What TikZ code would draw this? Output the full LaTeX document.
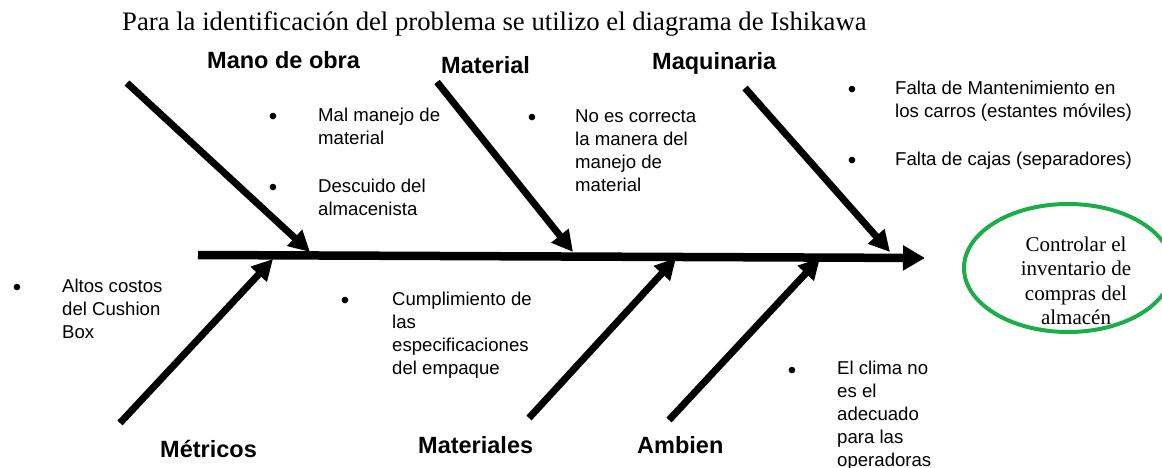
\documentclass[tikz,border=0pt]{standalone}
\usepackage{fontspec}
\setmainfont{Liberation Serif}
\newfontfamily\arialf{Liberation Sans}
\usetikzlibrary{arrows.meta,shapes.geometric}
\definecolor{goalgreen}{RGB}{28,172,72}
\tikzset{
  bone/.style={line width=7pt, -{Triangle[length=21pt,width=21pt]}},
  spine/.style={line width=8.5pt, -{Triangle[length=22pt,width=24pt]}},
  cat/.style={font=\arialf\bfseries\fontsize{23.5}{28}\selectfont, inner sep=0pt, anchor=base west},
  item/.style={font=\arialf\fontsize{18.6}{23}\selectfont, inner sep=0pt, anchor=base west},
  bul/.style={font=\arialf\fontsize{24}{28}\selectfont, inner sep=0pt, anchor=base, yshift=-3pt},
}
\newcommand{\lines}[1]{\begin{tabular}[t]{@{}l@{}}#1\end{tabular}}
\begin{document}
\begin{tikzpicture}[x=1pt,y=-1pt]
\useasboundingbox (0,0) rectangle (1162,468);
% title
\node[font=\fontsize{26.7}{30}\selectfont, inner sep=0pt, anchor=base west] (title) at (122,31)
  {Para la identificación del problema se utilizo el diagrama de Ishikawa};
% spine
\coordinate (sps) at (198,255);
\coordinate (spe) at (925,258);
\draw[spine] (sps) -- (spe);
% bones
\coordinate (b1s) at (127,83);  \coordinate (b1e) at (310,252);
\coordinate (b2s) at (437,82);  \coordinate (b2e) at (573,252);
\coordinate (b3s) at (745,88);  \coordinate (b3e) at (890,252);
\coordinate (b4s) at (120,423); \coordinate (b4e) at (273,259);
\coordinate (b5s) at (529,418); \coordinate (b5e) at (676,258);
\coordinate (b6s) at (669,420); \coordinate (b6e) at (820,258);
\draw[bone] (b1s) -- (b1e);
\draw[bone] (b2s) -- (b2e);
\draw[bone] (b3s) -- (b3e);
\draw[bone] (b4s) -- (b4e);
\draw[bone] (b5s) -- (b5e);
\draw[bone] (b6s) -- (b6e);
% category labels
\node[cat] (c1) at (207,69) {Mano de obra};
\node[cat] (c2) at (441,74) {Material};
\node[cat] (c3) at (652,70) {Maquinaria};
\node[cat] (c4) at (160,457) {Métricos};
\node[cat] (c5) at (418,453) {Materiales};
\node[cat] (c6) at (637,453) {Ambien};
% bullets
\node[bul] (u1) at (273,122) {•};
\node[bul] (u2) at (273,192) {•};
\node[bul] (u3) at (532,123) {•};
\node[bul] (u4) at (852,95) {•};
\node[bul] (u5) at (852,165) {•};
\node[bul] (u6) at (17,292) {•};
\node[bul] (u7) at (345,305) {•};
\node[bul] (u8) at (792,375) {•};
% items
\node[item] (t1) at (318,122) {\lines{Mal manejo de\\material}};
\node[item] (t2) at (318,192) {\lines{Descuido del\\almacenista}};
\node[item] (t3) at (575,123) {\lines{No es correcta\\la manera del\\manejo de\\material}};
\node[item] (t4) at (895,95) {\lines{Falta de Mantenimiento en\\los carros (estantes móviles)}};
\node[item] (t5) at (895,165) {Falta de cajas (separadores)};
\node[item] (t6) at (62,292) {\lines{Altos costos\\del Cushion\\Box}};
\node[item] (t7) at (392,305) {\lines{Cumplimiento de\\las\\especificaciones\\del empaque}};
\node[item] (t8) at (837,374) {\lines{El clima no\\es el\\adecuado\\para las\\operadoras}};
% goal
\node[draw=goalgreen, line width=4pt, ellipse, minimum width=208pt, minimum height=128pt, inner sep=0pt] (goal) at (1068,268) {};
\node[font=\fontsize{21}{24.5}\selectfont, align=center, inner sep=0pt] (goaltext) at (1076,281)
  {Controlar el\\inventario de\\compras del\\almacén};
\end{tikzpicture}
\end{document}
